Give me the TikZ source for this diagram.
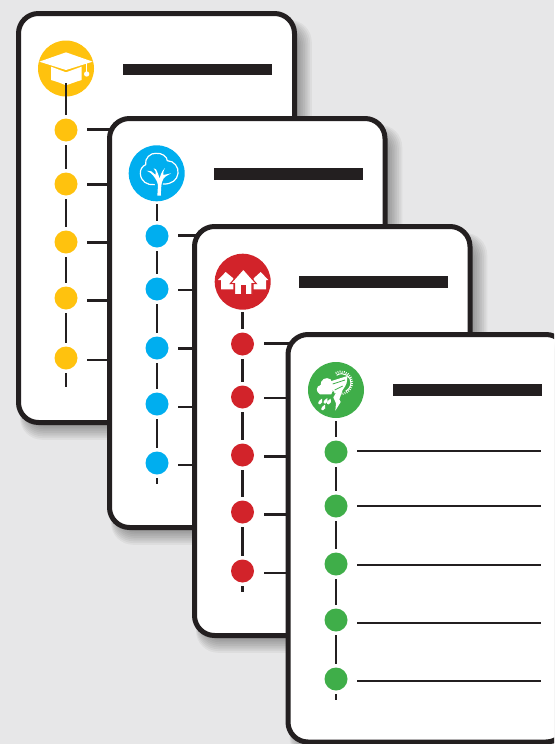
\documentclass[tikz,border=0pt]{standalone}
\definecolor{bgc}{HTML}{E7E7E8}
\definecolor{inkc}{HTML}{231F20}
\definecolor{yelc}{HTML}{FFC20E}
\definecolor{bluc}{HTML}{00AEEF}
\definecolor{redc}{HTML}{D2232A}
\definecolor{grnc}{HTML}{3FAE49}
\tikzset{
  cardbox/.style={draw=inkc,line width=5pt,fill=white,rounded corners=20pt},
  headbar/.style={fill=inkc},
  tdot/.style={circle,fill=#1,inner sep=0pt,minimum size=23pt,outer sep=3.5pt},
  ticon/.style={circle,fill=#1,inner sep=0pt,minimum size=56pt,outer sep=0pt},
  spine/.style={draw=inkc,line width=2.6pt},
  rowline/.style={draw=inkc,line width=2.4pt},
  wline/.style={draw=white,line width=1.2pt,line join=round,line cap=round},
}
% \cardback{left}{top}{right}{bottom}
\newcommand{\cardback}[4]{%
  \foreach \g in {0,1.5,...,15}{%
    \fill[black,opacity=.045,rounded corners=22pt]
      ({#1+6-.3*\g},{#2+14-.5*\g}) rectangle ({#3+\g*1.15},{#4+\g*1.15});
  }%
  \draw[cardbox] (#1,#2) rectangle (#3,#4);
}
\begin{document}
\begin{tikzpicture}[x=1pt,y=-1pt]
\useasboundingbox (0,0) rectangle (554,744);
\fill[bgc] (0,0) rectangle (554,744);
\begin{scope}
\clip (0,0) rectangle (554,744);

%%% CARD 1
\cardback{18.5}{13.5}{294.5}{422.5}
\node[ticon=yelc] (ai) at (66,68.5) {};
\begin{scope}[shift={(20,20)},scale=1/3]
  \fill[white] (93,140) -- (93,180) .. controls (115,186) and (128,192) .. (138,196)
     .. controls (150,192) and (165,186) .. (185,180) -- (185,140) -- (138,157) -- cycle;
  \fill[white] (58,125) -- (138,97) -- (218,125) -- (138,150) -- cycle;
  \draw[white,line width=1pt] (200,125) -- (200,160);
  \fill[white] (200,162) circle (8);
\end{scope}
\node[headbar,minimum width=149pt,minimum height=11.5pt,inner sep=0pt,anchor=west] (ab) at (123,69.5) {};
\foreach \n/\yy/\ly in {1/130/129.5,2/184/184.5,3/242/242.5,4/298/300.5,5/358/359.7}{
  \node[tdot=yelc] (ad\n) at (66,\yy) {};
  \coordinate (al\n) at (87,\ly);
  \coordinate (ae\n) at (272,\ly);
  \draw[rowline] (al\n) -- (ae\n);
}
\coordinate (at) at (66,83);
\coordinate (az) at (66,387);
\draw[spine] (at) -- (ad1);
\draw[spine] (ad1) -- (ad2);
\draw[spine] (ad2) -- (ad3);
\draw[spine] (ad3) -- (ad4);
\draw[spine] (ad4) -- (ad5);
\draw[spine] (ad5) -- (az);

%%% CARD 2
\cardback{109.5}{118.5}{385}{527.5}
\node[ticon=bluc] (bi) at (156.7,173.3) {};
\begin{scope}[shift={(110,130)},scale=1/3]
  \draw[wline] (133,164) .. controls (112,166) and (92,155) .. (91,130)
     .. controls (90,118) and (98,108) .. (107,104)
     .. controls (103,85) and (122,68) .. (138,70)
     .. controls (155,68) and (172,80) .. (172,92)
     .. controls (192,92) and (207,112) .. (204,130)
     .. controls (202,150) and (185,163) .. (160,162);
  \fill[white] (142,197) -- (144,165) .. controls (142,152) and (132,138) .. (122,129)
     -- (110,122) -- (124,124) -- (137,135) .. controls (140,130) and (136,120) .. (131,115)
     -- (138,118) .. controls (143,126) and (146,136) .. (149,146)
     .. controls (151,136) and (155,124) .. (165,114)
     .. controls (160,124) and (158,130) .. (160,135) -- (183,130)
     -- (166,140) .. controls (158,146) and (152,158) .. (153,197) -- cycle;
\end{scope}
\node[headbar,minimum width=149pt,minimum height=11.5pt,inner sep=0pt,anchor=west] (bb) at (214,174) {};
\foreach \n/\yy/\ly in {1/236/235.5,2/289/290,3/348/348.5,4/404/406.7,5/463/465}{
  \node[tdot=bluc] (bd\n) at (157,\yy) {};
  \coordinate (bl\n) at (178,\ly);
  \coordinate (be\n) at (363,\ly);
  \draw[rowline] (bl\n) -- (be\n);
}
\coordinate (bt) at (157,204);
\coordinate (bz) at (157,484);
\draw[spine] (bt) -- (bd1);
\draw[spine] (bd1) -- (bd2);
\draw[spine] (bd2) -- (bd3);
\draw[spine] (bd3) -- (bd4);
\draw[spine] (bd4) -- (bd5);
\draw[spine] (bd5) -- (bz);

%%% CARD 3
\cardback{194.5}{226.5}{470}{635.5}
\node[ticon=redc] (ci) at (242.7,281.7) {};
\begin{scope}[shift={(195,235)},scale=1/3]
  \fill[white] (92,111) -- (69,135) -- (78,135) -- (78,163) -- (115,163) -- (115,130) -- cycle;
  \fill[white] (197,111) -- (220,135) -- (213,135) -- (213,163) -- (176,163) -- (176,130) -- cycle;
  \draw[redc,line width=1.1pt,fill=white,line join=miter] (145,102) -- (106,146) -- (119,146) -- (119,179)
     -- (171,179) -- (171,146) -- (184,146) -- cycle;
  \fill[redc] (137,180) -- (137,150) -- (153,150) -- (153,180) -- cycle;
\end{scope}
\node[headbar,minimum width=149pt,minimum height=11.5pt,inner sep=0pt,anchor=west] (cb) at (299,282) {};
\foreach \n/\yy/\ly in {1/344/343.5,2/397/398,3/455/456.5,4/512/514.5,5/571/573}{
  \node[tdot=redc] (cd\n) at (242.5,\yy) {};
  \coordinate (cl\n) at (264,\ly);
  \coordinate (ce\n) at (448,\ly);
  \draw[rowline] (cl\n) -- (ce\n);
}
\coordinate (ct) at (242.5,312);
\coordinate (cz) at (242.5,592);
\draw[spine] (ct) -- (cd1);
\draw[spine] (cd1) -- (cd2);
\draw[spine] (cd2) -- (cd3);
\draw[spine] (cd3) -- (cd4);
\draw[spine] (cd4) -- (cd5);
\draw[spine] (cd5) -- (cz);

%%% CARD 4
\cardback{288}{334.5}{566}{742}
\node[ticon=grnc] (di) at (336,390) {};
\begin{scope}[shift={(290,340)},scale=1/3]
  % cloud
  \fill[white] (90,163) .. controls (76,155) and (78,138) .. (92,135)
     .. controls (90,120) and (108,108) .. (122,118) -- (130,145) -- (124,163) -- cycle;
  % drops
  \foreach \p in {(90,186),(106,184),(99,204),(116,186)}{
    \fill[white,shift={\p}] (6,-10) .. controls (8,-3) and (8,6) .. (0,7)
       .. controls (-8,7) and (-8,-2) .. cycle;
  }
  % tornado
  \fill[white] (118,125) -- (172,108) .. controls (172,125) and (170,135) .. (158,150)
     -- (148,178) -- (152,186) -- (136,212) -- (138,190) -- (130,172) -- (137,160) -- (125,145) -- cycle;
  \draw[grnc,line width=.8pt] (128,132) -- (165,120);
  \draw[grnc,line width=.8pt] (134,150) -- (158,138);
  % sun
  \draw[white,line width=2.2pt,dash pattern=on .8pt off 1.3pt] (137,99) arc (-118:150:33.5);
  \draw[white,line width=1pt] (140,106) .. controls (160,92) and (185,110) .. (183,130)
     .. controls (182,140) and (175,150) .. (167,153);
\end{scope}
\node[headbar,minimum width=149pt,minimum height=11.5pt,inner sep=0pt,anchor=west] (db) at (393,390) {};
\foreach \n/\yy/\ly in {1/452/451,2/506/506,3/564/565,4/620/623,5/679/681}{
  \node[tdot=grnc] (dd\n) at (336,\yy) {};
  \coordinate (dl\n) at (357,\ly);
  \coordinate (de\n) at (541,\ly);
  \draw[rowline] (dl\n) -- (de\n);
}
\coordinate (dt) at (336,421);
\coordinate (dz) at (336,700);
\draw[spine] (dt) -- (dd1);
\draw[spine] (dd1) -- (dd2);
\draw[spine] (dd2) -- (dd3);
\draw[spine] (dd3) -- (dd4);
\draw[spine] (dd4) -- (dd5);
\draw[spine] (dd5) -- (dz);
\end{scope}
\end{tikzpicture}
\end{document}
